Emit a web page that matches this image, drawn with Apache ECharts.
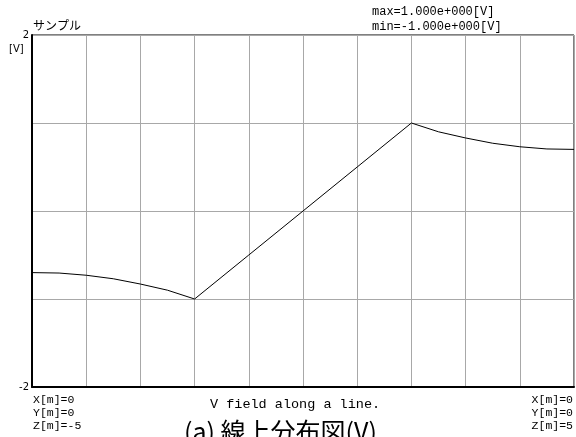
<!DOCTYPE html>
<html>
<head>
<meta charset="utf-8">
<script src="https://cdn.jsdelivr.net/npm/echarts@6/dist/echarts.min.js"></script>
<style>
  html, body { margin: 0; padding: 0; background: #fff; }
  #chart { width: 576px; height: 437px; }
</style>
</head>
<body>
<div id="chart"></div>
<script>
// Sample positions along the line (Z, in metres) and the potential V there
const zPositions = [-5, -4.5, -4, -3.5, -3, -2.5, -2, -1, 0, 1, 2, 2.5, 3, 3.5, 4, 4.5, 5];
const potential  = [-0.70, -0.705, -0.73, -0.77, -0.83, -0.90, -1.0, -0.5, 0, 0.5, 1.0, 0.90, 0.83, 0.77, 0.73, 0.705, 0.70];

const yTickLabels = { '2': '2', '-2': '-2' };
const maxText = 'max=1.000e+000[V]';
const minText = 'min=-1.000e+000[V]';
const startPoint = ['X[m]=0', 'Y[m]=0', 'Z[m]=-5'];
const endPoint = ['X[m]=0', 'Y[m]=0', 'Z[m]=5'];

const mono = '"Liberation Mono", "DejaVu Sans Mono", monospace';
const jp = '"Noto Sans CJK JP", sans-serif';

const chart = echarts.init(document.getElementById('chart'), null, { renderer: 'canvas' });

chart.setOption({
  animation: false,
  backgroundColor: '#fff',
  grid: {
    left: 32, top: 35, width: 542, height: 352,
    show: true, borderColor: '#000', borderWidth: 1
  },
  xAxis: {
    type: 'value', min: -5, max: 5, interval: 1,
    axisLine: { show: true, onZero: false, lineStyle: { color: '#000', width: 2 } },
    axisTick: { show: false },
    axisLabel: { show: false },
    splitLine: { show: true, lineStyle: { color: '#a8a8a8', width: 1 } }
  },
  yAxis: {
    type: 'value', min: -2, max: 2, interval: 1,
    axisLine: { show: true, onZero: false, lineStyle: { color: '#000', width: 2 } },
    axisTick: { show: false },
    axisLabel: {
      show: true, margin: 3, color: '#000', fontSize: 10,
      fontFamily: '"DejaVu Sans", sans-serif',
      formatter: v => yTickLabels[String(v)] || ''
    },
    splitLine: { show: true, lineStyle: { color: '#a8a8a8', width: 1 } }
  },
  series: [{
    type: 'line',
    data: zPositions.map((z, i) => [z, potential[i]]),
    showSymbol: false,
    lineStyle: { color: '#000', width: 1 }
  }],
  graphic: [
    { type: 'text', left: 33, top: 19, style: { text: 'サンプル', font: '12px ' + jp, fill: '#000' } },
    { type: 'text', left: 9, top: 44, style: { text: '[V]', font: '10px "DejaVu Sans", sans-serif', fill: '#000' } },
    { type: 'text', left: 372, top: 6, style: { text: maxText, font: '12px ' + mono, fill: '#000' } },
    { type: 'text', left: 372, top: 21, style: { text: minText, font: '12px ' + mono, fill: '#000' } },
    { type: 'text', left: 33, top: 393, style: { text: startPoint.join('\n'), font: '11.5px ' + mono, lineHeight: 13, fill: '#000' } },
    { type: 'text', right: 3, top: 393, style: { text: endPoint.join('\n'), font: '11.5px ' + mono, lineHeight: 13, fill: '#000', align: 'right' } },
    { type: 'text', left: 210, top: 397, style: { text: 'V field along a line.', font: '13.5px ' + mono, fill: '#000' } },
    { type: 'text', left: 184, top: 419, style: { text: '(a) 線上分布図(V)', font: '25px ' + jp, fill: '#000' } }
  ]
});
</script>
</body>
</html>
